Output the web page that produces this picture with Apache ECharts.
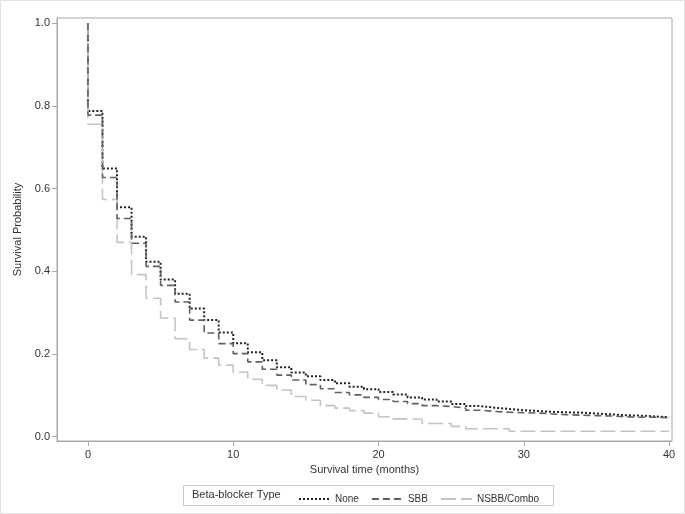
<!DOCTYPE html>
<html>
<head>
<meta charset="utf-8">
<script src="https://cdn.jsdelivr.net/npm/echarts@6/dist/echarts.min.js"></script>
<style>
html,body{margin:0;padding:0;background:#fff;}
#chart{width:685px;height:514px;}
</style>
</head>
<body>
<div id="chart"></div>
<script>
const seriesNames = ['None', 'SBB', 'NSBB/Combo'];
const months = [0,1,2,3,4,5,6,7,8,9,10,11,12,13,14,15,16,17,18,19,20,21,22,23,24,25,26,27,28,29,30,31,32,33,34,35,36,37,38,39,40];
const startSurvival = 1.0;
const noneS = [0.788,0.649,0.555,0.484,0.423,0.380,0.346,0.310,0.282,0.252,0.226,0.204,0.185,0.168,0.155,0.146,0.137,0.129,0.121,0.115,0.108,0.102,0.095,0.090,0.085,0.079,0.074,0.070,0.067,0.064,0.062,0.060,0.059,0.058,0.056,0.054,0.052,0.051,0.049,0.047,0.046];
const sbbS = [0.778,0.627,0.528,0.468,0.412,0.366,0.326,0.282,0.251,0.225,0.201,0.181,0.163,0.149,0.137,0.126,0.116,0.107,0.101,0.095,0.090,0.085,0.080,0.075,0.073,0.069,0.064,0.061,0.059,0.058,0.057,0.055,0.053,0.052,0.051,0.050,0.048,0.047,0.047,0.046,0.045];
const nsbbS = [0.756,0.574,0.470,0.392,0.335,0.287,0.237,0.211,0.190,0.173,0.156,0.139,0.124,0.113,0.097,0.088,0.075,0.069,0.063,0.057,0.048,0.043,0.042,0.032,0.032,0.025,0.019,0.019,0.019,0.013,0.013,0.013,0.013,0.013,0.013,0.013,0.013,0.013,0.013,0.013,0.013];
const xTicks = [0,10,20,30,40];
const yTicks = [0,0.2,0.4,0.6,0.8,1.0];

function km(s){ return [[months[0], startSurvival]].concat(months.map((m,i)=>[m, s[i]])); }

const FONT = "'Liberation Sans Narrow','Arial Narrow','Liberation Sans',Arial,sans-serif";
const chart = echarts.init(document.getElementById('chart'), null, {renderer:'canvas'});
const styles = [
  {color:'#222222', width:2, type:[2,2]},
  {color:'#606060', width:1.6, type:[7,4]},
  {color:'#c4c4c4', width:1.6, type:[15,5]}
];
const zOrder = [2, 4, 3];
const datas = [km(noneS), km(sbbS), km(nsbbS)];
chart.setOption({
  animation:false,
  backgroundColor:'#ffffff',
  grid:{left:57, right:13, top:18, bottom:73, show:true, borderColor:'#a8a8a8', borderWidth:1, backgroundColor:'transparent'},
  xAxis:{
    type:'value', min:-2.13, max:40.2,
    name:'Survival time (months)', nameLocation:'middle', nameGap:22,
    nameTextStyle:{fontFamily:FONT, fontSize:11, color:'#333'},
    axisLine:{show:true, onZero:false, lineStyle:{color:'#a8a8a8'}},
    axisTick:{show:true, length:5, lineStyle:{color:'#a8a8a8'}, customValues:xTicks},
    axisLabel:{fontFamily:FONT, fontSize:11, color:'#333', margin:8, customValues:xTicks},
    splitLine:{show:false}
  },
  yAxis:{
    type:'value', min:-0.0105, max:1.013,
    name:'Survival Probability', nameLocation:'middle', nameGap:33,
    nameTextStyle:{fontFamily:FONT, fontSize:11, color:'#333'},
    axisLine:{show:true, onZero:false, lineStyle:{color:'#a8a8a8'}},
    axisTick:{show:true, length:5, lineStyle:{color:'#a8a8a8'}, customValues:yTicks},
    axisLabel:{fontFamily:FONT, fontSize:11, color:'#333', margin:7, customValues:yTicks, formatter:v=>v.toFixed(1)},
    splitLine:{show:false}
  },
  legend:{
    left:293, top:489, itemWidth:31, itemHeight:8, itemGap:12,
    itemStyle:{opacity:0},
    textStyle:{fontFamily:FONT, fontSize:10, color:'#333'},
    data:seriesNames
  },
  graphic:[
    {type:'rect', shape:{x:0.5, y:0.5, width:684, height:513}, style:{fill:'none', stroke:'#e2e2e2', lineWidth:1}, silent:true},
    {type:'rect', shape:{x:183.5, y:485.5, width:370, height:20}, style:{fill:'none', stroke:'#c8c8c8', lineWidth:1}, silent:true},
    {type:'text', left:192, top:489, style:{text:'Beta-blocker Type', fontFamily:FONT, fontSize:11, fill:'#333'}, silent:true}
  ],
  series: seriesNames.map((n,i)=>({
    name:n, type:'line', step:'end', symbol:'none', showSymbol:false,
    data:datas[i], lineStyle:styles[i], itemStyle:{color:styles[i].color},
    z: zOrder[i]
  }))
});
</script>
</body>
</html>
